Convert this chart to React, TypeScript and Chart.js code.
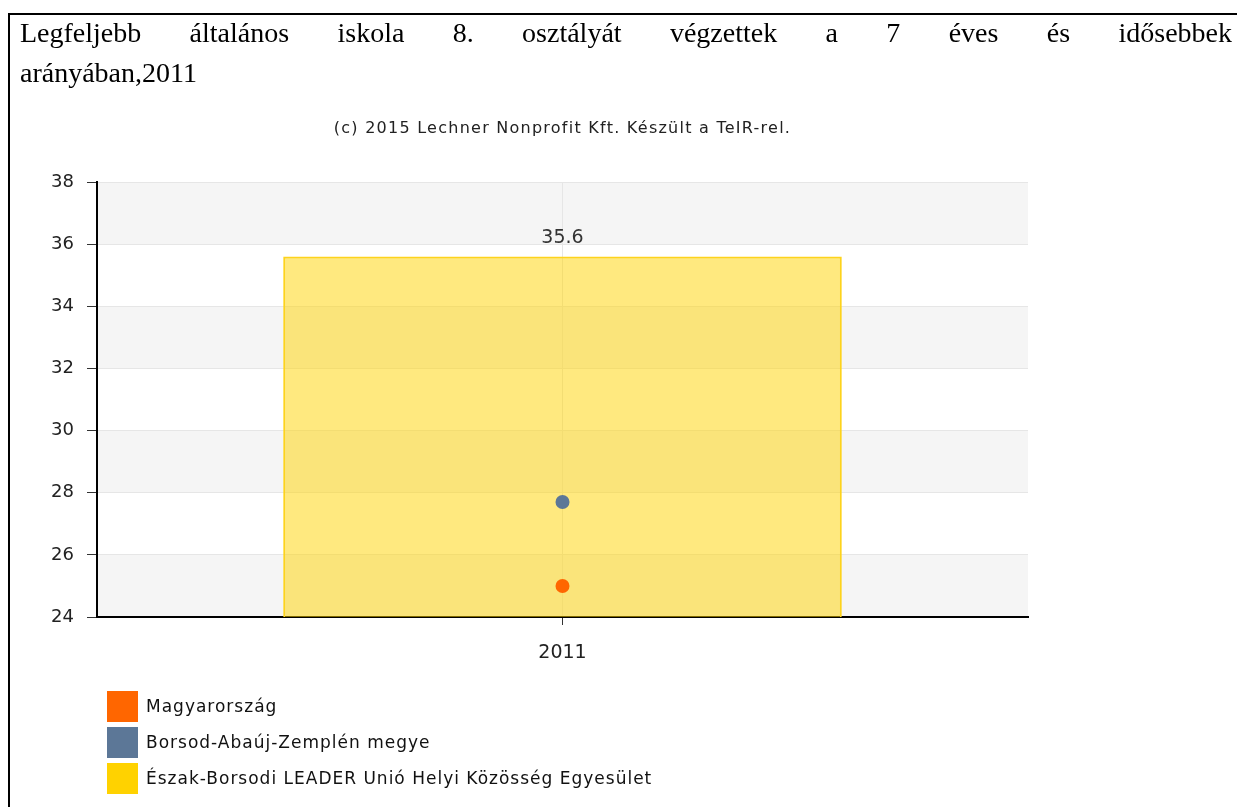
import React, { useEffect, useRef } from "react";
import { Chart, registerables } from "chart.js";

Chart.register(...registerables);

const titleLine1 = "Legfeljebb általános iskola 8. osztályát végzettek a 7 éves és idősebbek";
const titleLine2 = "arányában,2011";
const subtitle = "(c) 2015 Lechner Nonprofit Kft. Készült a TeIR-rel.";

const categories = ["2011"];
const seriesNames = [
  "Magyarország",
  "Borsod-Abaúj-Zemplén megye",
  "Észak-Borsodi LEADER Unió Helyi Közösség Egyesület",
];
const seriesColors = ["#ff6600", "#5c7797", "#ffd200"];
const magyarorszag = [25.0];
const borsod = [27.7];
const eszakBorsodi = [35.6];

const yMin = 24;
const yMax = 38;
const yStep = 2;

const CHART_FONT = "'DejaVu Sans', Verdana, sans-serif";

const bandsPlugin = {
  id: "bands",
  beforeDraw(chart: any) {
    const { ctx, chartArea } = chart;
    const y = chart.scales.y;
    ctx.save();
    for (let v = yMin; v < yMax; v += yStep) {
      if (((v - yMin) / yStep) % 2 === 0) {
        const top = y.getPixelForValue(v + yStep);
        const bottom = y.getPixelForValue(v);
        ctx.fillStyle = "#f5f5f5";
        ctx.fillRect(chartArea.left, top, chartArea.right - chartArea.left, bottom - top);
      }
    }
    ctx.restore();
  },
};

const barLabelPlugin = {
  id: "barLabel",
  afterDatasetsDraw(chart: any) {
    const { ctx } = chart;
    const meta = chart.getDatasetMeta(2);
    ctx.save();
    ctx.font = `19px ${CHART_FONT}`;
    ctx.fillStyle = "#333";
    ctx.textAlign = "center";
    ctx.textBaseline = "bottom";
    meta.data.forEach((el: any, i: number) => {
      ctx.fillText(eszakBorsodi[i].toFixed(1), el.x, el.y - 9);
    });
    ctx.restore();
  },
};

export default function App() {
  const canvasRef = useRef<HTMLCanvasElement | null>(null);

  useEffect(() => {
    document.body.style.overflow = "hidden";
    const canvas = canvasRef.current;
    if (!canvas) return;
    const chart = new Chart(canvas, {
      data: {
        labels: categories,
        datasets: [
          {
            type: "line",
            label: seriesNames[0],
            data: magyarorszag,
            showLine: false,
            pointRadius: 7,
            pointBorderWidth: 0,
            pointBackgroundColor: seriesColors[0],
            borderColor: seriesColors[0],
          },
          {
            type: "line",
            label: seriesNames[1],
            data: borsod,
            showLine: false,
            pointRadius: 7,
            pointBorderWidth: 0,
            pointBackgroundColor: seriesColors[1],
            borderColor: seriesColors[1],
          },
          {
            type: "bar",
            label: seriesNames[2],
            data: eszakBorsodi,
            backgroundColor: "rgba(255, 212, 0, 0.5)",
            borderColor: "#fdd31c",
            borderWidth: 2,
            barPercentage: 0.6,
            categoryPercentage: 1,
          },
        ],
      } as any,
      options: {
        animation: false,
        responsive: false,
        events: [],
        layout: { padding: { left: 0, top: 182, right: 209, bottom: 130 } },
        plugins: {
          legend: { display: false },
          tooltip: { enabled: false },
          title: { display: false },
        },
        scales: {
          x: {
            type: "category",
            afterFit: (s: any) => { s.height = 60; },
            grid: {
              offset: false,
              color: "#e6e6e6",
              tickColor: "#333",
              tickLength: 8,
              lineWidth: 1,
            },
            border: { display: true, color: "#000", width: 2 },
            ticks: {
              color: "#222",
              padding: 17,
              font: { family: CHART_FONT, size: 19 },
            },
          },
          y: {
            min: yMin,
            max: yMax,
            afterFit: (s: any) => { s.width = 97; },
            grid: {
              color: "#e6e6e6",
              tickColor: "#333",
              tickLength: 10,
              lineWidth: 1,
            },
            border: { display: true, color: "#000", width: 2 },
            ticks: {
              stepSize: yStep,
              color: "#222",
              padding: 13,
              font: { family: CHART_FONT, size: 18 },
            },
          },
        },
      } as any,
      plugins: [bandsPlugin, barLabelPlugin],
    });
    return () => chart.destroy();
  }, []);

  return (
    <div>
      <div
        style={{
          position: "fixed",
          left: 8,
          top: 13,
          width: 1229,
          height: 794,
          borderTop: "2px solid #000",
          borderLeft: "2px solid #000",
          boxSizing: "border-box",
        }}
      />
      <div
        style={{
          position: "fixed",
          left: 20,
          top: 13,
          width: 1212,
          fontFamily: "'Liberation Serif', 'Times New Roman', serif",
          fontSize: 28,
          lineHeight: "40px",
          color: "#000",
        }}
      >
        <div style={{ textAlign: "justify", textAlignLast: "justify" } as any}>{titleLine1}</div>
        <div>{titleLine2}</div>
      </div>
      <canvas
        ref={canvasRef}
        width={1237}
        height={807}
        style={{ position: "fixed", left: 0, top: 0, width: 1237, height: 807 }}
      />
      <div
        style={{
          position: "fixed",
          left: 97,
          width: 931,
          top: 116,
          textAlign: "center",
          fontFamily: CHART_FONT,
          fontSize: 16,
          letterSpacing: "1.25px",
          lineHeight: "24px",
          color: "#222",
        }}
      >
        {subtitle}
      </div>
      <div style={{ position: "fixed", left: 107, top: 688 }}>
        {seriesNames.map((name, i) => (
          <div key={name} style={{ display: "flex", alignItems: "center", height: 36 }}>
            <div style={{ width: 31, height: 31, background: seriesColors[i], marginRight: 8 }} />
            <span
              style={{
                fontFamily: CHART_FONT,
                fontSize: 17,
                letterSpacing: "1px",
                color: "#111",
              }}
            >
              {name}
            </span>
          </div>
        ))}
      </div>
    </div>
  );
}
